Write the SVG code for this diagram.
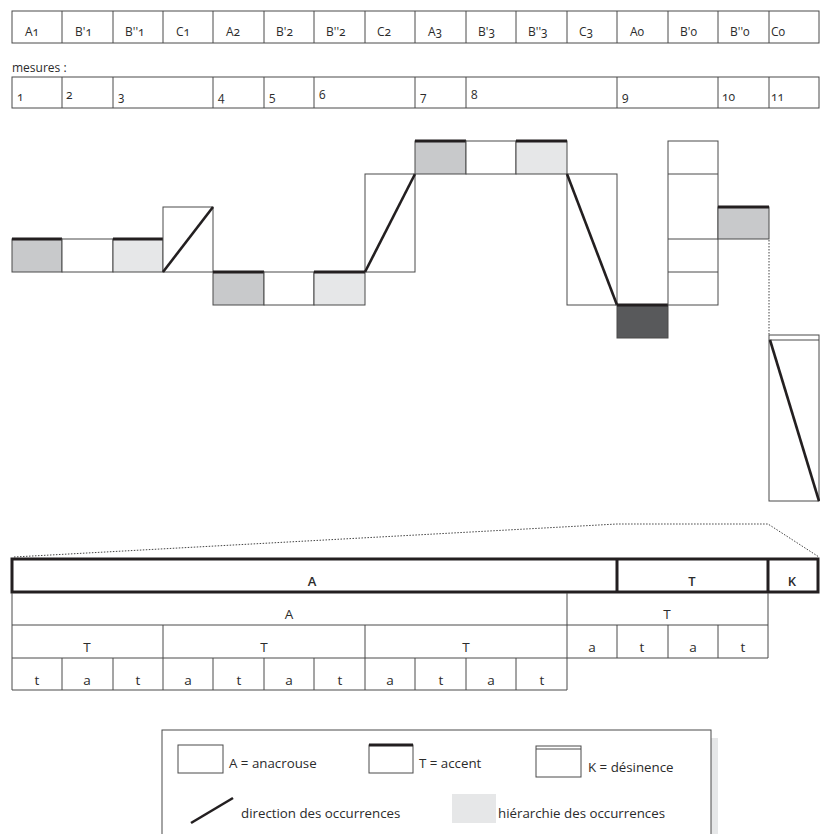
<svg xmlns="http://www.w3.org/2000/svg" width="820" height="834" viewBox="0 0 820 834">
<style>
text{font-family:"Open Sans","Noto Sans","DejaVu Sans",sans-serif;font-size:12px;fill:#2b2b2b;font-variant-numeric:oldstyle-nums}
.c{text-anchor:middle}
.tb{font-size:13.5px}
.lg{font-size:13.3px}
.b{font-size:13px;font-weight:600}
.thin{fill:none;stroke:#4a4a4a;stroke-width:1}
.w{fill:#fff;stroke:#4a4a4a;stroke-width:1}
.g{fill:#c8c9cb;stroke:#4a4a4a;stroke-width:1}
.lt{fill:#e6e7e8;stroke:#4a4a4a;stroke-width:1}
.dk{fill:#58595b;stroke:#4a4a4a;stroke-width:1}
.acc{stroke:#231f20;stroke-width:3;fill:none}
.dir{stroke:#231f20;stroke-width:2.6;fill:none}
.thick{fill:none;stroke:#231f20;stroke-width:3}
.dot{fill:none;stroke:#444;stroke-width:1;stroke-dasharray:1.5 1.5}
</style>

<g id="sections">
<rect class="thin" x="12" y="11" width="807" height="32"/>
<path class="thin" d="M62 11V43M113 11V43M163 11V43M213 11V43M264 11V43M314 11V43M365 11V43M415 11V43M466 11V43M516 11V43M567 11V43M617 11V43M668 11V43M718 11V43M769 11V43"/>
<text x="25" y="36">A1</text>
<text x="75" y="36">B'1</text>
<text x="125" y="36">B''1</text>
<text x="176" y="36">C1</text>
<text x="226" y="36">A2</text>
<text x="276" y="36">B'2</text>
<text x="326" y="36">B''2</text>
<text x="377" y="36">C2</text>
<text x="428" y="36">A3</text>
<text x="478" y="36">B'3</text>
<text x="528" y="36">B''3</text>
<text x="579" y="36">C3</text>
<text x="630" y="36">A0</text>
<text x="680" y="36">B'0</text>
<text x="730" y="36">B''0</text>
<text x="771" y="36">C0</text>
</g>

<g id="measures">
<text x="12" y="72">mesures :</text>
<rect class="thin" x="12" y="77" width="807" height="31"/>
<path class="thin" d="M62 77V108M113 77V108M213 77V108M264 77V108M314 77V108M415 77V108M466 77V108M617 77V108M718 77V108M769 77V108"/>
<text x="17" y="101">1</text>
<text x="66" y="99">2</text>
<text x="118" y="101">3</text>
<text x="218" y="101">4</text>
<text x="269" y="101">5</text>
<text x="319" y="99">6</text>
<text x="420" y="101">7</text>
<text x="471" y="99">8</text>
<text x="622" y="101">9</text>
<text x="722" y="101">10</text>
<text x="771" y="101">11</text>
</g>

<g id="A1"><rect class="g" x="12" y="239" width="50" height="33"/><path class="acc" d="M12 239H62"/></g>
<g id="B1p"><rect class="w" x="62" y="239" width="51" height="33"/></g>
<g id="B1pp"><rect class="lt" x="113" y="239" width="50" height="33"/><path class="acc" d="M113 239H163"/></g>
<g id="C1"><rect class="w" x="163" y="207" width="50" height="65"/><path class="dir" d="M163 272L213 207"/></g>

<g id="A2"><rect class="g" x="213" y="272" width="51" height="33"/><path class="acc" d="M213 272H264"/></g>
<g id="B2p"><rect class="w" x="264" y="272" width="50" height="33"/></g>
<g id="B2pp"><rect class="lt" x="314" y="272" width="51" height="33"/><path class="acc" d="M314 272H365"/></g>
<g id="C2"><rect class="w" x="365" y="174" width="50" height="98"/><path class="dir" d="M365 272L415 174"/></g>

<g id="A3"><rect class="g" x="415" y="141" width="51" height="33"/><path class="acc" d="M415 141H466"/></g>
<g id="B3p"><rect class="w" x="466" y="141" width="50" height="33"/></g>
<g id="B3pp"><rect class="lt" x="516" y="141" width="51" height="33"/><path class="acc" d="M516 141H567"/></g>
<g id="C3"><rect class="w" x="567" y="174" width="50" height="131"/><path class="dir" d="M567 174L617 305"/></g>

<g id="A0"><rect class="dk" x="617" y="305" width="51" height="33"/><path class="acc" d="M617 305H668"/></g>
<g id="B0p"><rect class="w" x="668" y="141" width="50" height="164"/><path class="thin" d="M668 174H718M668 239H718M668 272H718"/></g>
<g id="B0pp"><rect class="g" x="718" y="207" width="51" height="32"/><path class="acc" d="M718 207H769"/></g>
<g id="C0"><rect class="w" x="769" y="335" width="50" height="166"/><path class="thin" d="M769 340H819"/><path class="dir" d="M770 340L819 501"/></g>

<g id="connectors">
<path class="dot" d="M769 240V335"/>
<path class="dot" d="M14 557L617 524H768L819 557"/>
</g>

<g id="level1">
<rect class="thick" x="12" y="559" width="806" height="33"/>
<path class="thick" d="M617 559V592M768 559V592"/>
<text class="b c" x="312" y="586">A</text>
<text class="b c" x="692" y="586">T</text>
<text class="b c" x="792" y="586">K</text>
</g>

<g id="level2">
<path class="thin" d="M12 593V690M12 625H768M12 658H768M12 690H567M567 593V690M768 593V658"/>
<path class="thin" d="M163 625V690M365 625V690M617 625V658M668 625V658M718 625V658"/>
<path class="thin" d="M62 658V690M113 658V690M213 658V690M264 658V690M314 658V690M415 658V690M466 658V690M516 658V690"/>
<text class="c tb" x="289" y="619">A</text>
<text class="c tb" x="667" y="619">T</text>
<text class="c tb" x="87" y="652">T</text>
<text class="c tb" x="264" y="652">T</text>
<text class="c tb" x="466" y="652">T</text>
<text class="c tb" x="592" y="652">a</text>
<text class="c tb" x="642" y="652">t</text>
<text class="c tb" x="693" y="652">a</text>
<text class="c tb" x="743" y="652">t</text>
<text class="c tb" x="37" y="685">t</text>
<text class="c tb" x="87" y="685">a</text>
<text class="c tb" x="138" y="685">t</text>
<text class="c tb" x="188" y="685">a</text>
<text class="c tb" x="239" y="685">t</text>
<text class="c tb" x="289" y="685">a</text>
<text class="c tb" x="340" y="685">t</text>
<text class="c tb" x="390" y="685">a</text>
<text class="c tb" x="441" y="685">t</text>
<text class="c tb" x="491" y="685">a</text>
<text class="c tb" x="542" y="685">t</text>
</g>

<g id="legend">
<rect x="711" y="738" width="7" height="100" fill="#e6e7e8"/>
<rect class="w" x="162" y="730" width="549" height="110"/>
<rect class="w" x="178" y="745" width="45" height="28"/>
<text class="lg" x="229" y="768">A = anacrouse</text>
<rect class="w" x="369" y="745" width="44" height="28"/>
<path class="acc" d="M369 745H413"/>
<text class="lg" x="419" y="768">T = accent</text>
<rect class="w" x="536" y="746" width="45" height="31"/>
<path class="thin" d="M536 749H581"/>
<text class="lg" x="588" y="772">K = désinence</text>
<path class="dir" d="M191 823L233 798"/>
<text class="lg" x="241" y="818">direction des occurrences</text>
<rect x="452" y="794" width="44" height="29" fill="#e6e7e8"/>
<text class="lg" x="498" y="818">hiérarchie des occurrences</text>
</g>
</svg>
